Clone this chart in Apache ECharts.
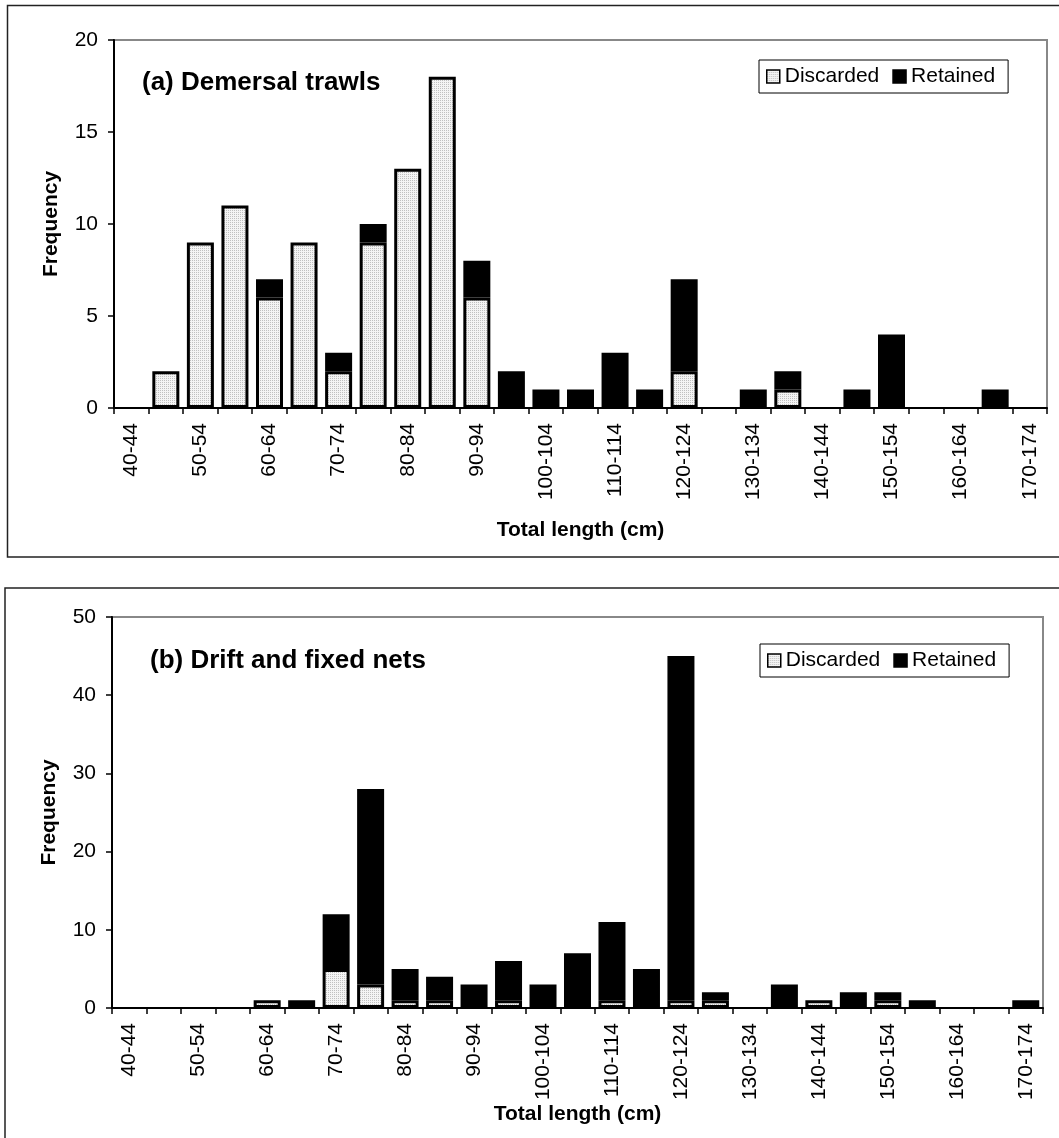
<!DOCTYPE html>
<html><head><meta charset="utf-8">
<script src="https://cdn.jsdelivr.net/npm/echarts@6/dist/echarts.min.js"></script>
<style>html,body{margin:0;padding:0;background:#fff}#c{width:1059px;height:1138px}</style>
</head><body><div id="c"></div>
<script>
const categories = ['40-44','45-49','50-54','55-59','60-64','65-69','70-74','75-79','80-84','85-89',
  '90-94','95-99','100-104','105-109','110-114','115-119','120-124','125-129','130-134','135-139',
  '140-144','145-149','150-154','155-159','160-164','165-169','170-174'];
const discardedA = [0,2,9,11,6,9,2,9,13,18,6,0,0,0,0,0,2,0,0,1,0,0,0,0,0,0,0];
const retainedA  = [0,0,0,0,1,0,1,1,0,0,2,2,1,1,3,1,5,0,1,1,0,1,4,0,0,1,0];
const discardedB = [0,0,0,0,1,0,5,3,1,1,0,1,0,0,1,0,1,1,0,0,1,0,1,0,0,0,0];
const retainedB  = [0,0,0,0,0,1,7,25,4,3,3,5,3,7,10,5,44,1,0,3,0,2,1,1,0,0,1];
const yTicksA = [0,5,10,15,20];
const yTicksB = [0,10,20,30,40,50];
const titleA = '(a) Demersal trawls';
const titleB = '(b) Drift and fixed nets';
const seriesNames = ['Discarded','Retained'];

const FF = '"Liberation Sans", Arial, sans-serif';
const pc = document.createElement('canvas'); pc.width = 2; pc.height = 2;
const g = pc.getContext('2d');
g.fillStyle = '#f4f4f4'; g.fillRect(0,0,2,2);
g.fillStyle = '#c0c0c0'; g.fillRect(0,0,1,1);
const stipple = {image: pc, repeat: 'repeat'};

function xAxis(idx, gap) {
  return {type:'category', gridIndex:idx, data:categories, boundaryGap:true,
    axisLine:{lineStyle:{color:'#000', width:2}},
    axisTick:{show:true, interval:0, length:6, lineStyle:{color:'#000', width:1.5}},
    axisLabel:{interval:1, rotate:90, margin:15, fontSize:21, color:'#000', fontFamily:FF},
    name:'Total length (cm)', nameLocation:'middle', nameGap:gap,
    nameTextStyle:{fontSize:21, fontWeight:'bold', color:'#000', fontFamily:FF}};
}
function yAxis(idx, ticks) {
  return {type:'value', gridIndex:idx, min:ticks[0], max:ticks[ticks.length-1], interval:ticks[1]-ticks[0],
    axisLine:{show:true, lineStyle:{color:'#000', width:2}},
    axisTick:{show:true, length:6, lineStyle:{color:'#000', width:1.5}},
    splitLine:{show:false},
    axisLabel:{margin:16, fontSize:21, color:'#000', fontFamily:FF},
    name:'Frequency', nameLocation:'middle', nameGap:52, nameRotate:90,
    nameTextStyle:{fontSize:21, fontWeight:'bold', color:'#000', fontFamily:FF}};
}
function bar(name, data, idx, fill) {
  return {type:'bar', name:name, xAxisIndex:idx, yAxisIndex:idx, stack:'s'+idx,
    data:data.map(v => v === 0 ? '-' : v), barWidth:27,
    itemStyle:{color:fill, borderColor:'#000', borderWidth:3},
    emphasis:{disabled:true}, silent:true};
}
function legend(left, top) {
  return {data:seriesNames, left:left, top:top, orient:'horizontal', padding:[6,13,6,7], itemGap:13,
    itemWidth:13, itemHeight:13, borderColor:'#000', borderWidth:1, selectedMode:false,
    icon:'rect', textStyle:{fontSize:21, color:'#000', fontFamily:FF},
    itemStyle:{borderColor:'#000', borderWidth:1.5}};
}

const chart = echarts.init(document.getElementById('c'));
chart.setOption({
  animation:false,
  backgroundColor:'#fff',
  title:[
    {text:titleA, left:142, top:70, padding:0, textStyle:{fontSize:26, fontWeight:'bold', color:'#000', fontFamily:FF}},
    {text:titleB, left:150, top:648, padding:0, textStyle:{fontSize:26, fontWeight:'bold', color:'#000', fontFamily:FF}}
  ],
  legend:[legend(759,60), legend(760,644)],
  grid:[
    {left:114, top:40, width:933, height:368, show:true, borderColor:'#888', borderWidth:2, backgroundColor:'transparent'},
    {left:112, top:617, width:931, height:391, show:true, borderColor:'#888', borderWidth:2, backgroundColor:'transparent'}
  ],
  xAxis:[xAxis(0,112), xAxis(1,95)],
  yAxis:[yAxis(0,yTicksA), yAxis(1,yTicksB)],
  series:[
    bar(seriesNames[0], discardedA, 0, stipple),
    bar(seriesNames[1], retainedA, 0, '#000'),
    bar(seriesNames[0], discardedB, 1, stipple),
    bar(seriesNames[1], retainedB, 1, '#000')
  ],
  graphic:[
    {type:'rect', silent:true, shape:{x:7.5, y:5.5, width:1060, height:551.5}, style:{fill:null, stroke:'#222', lineWidth:1.5}},
    {type:'rect', silent:true, shape:{x:5, y:588, width:1060, height:600}, style:{fill:null, stroke:'#222', lineWidth:1.5}}
  ]
});
</script>
</body></html>
